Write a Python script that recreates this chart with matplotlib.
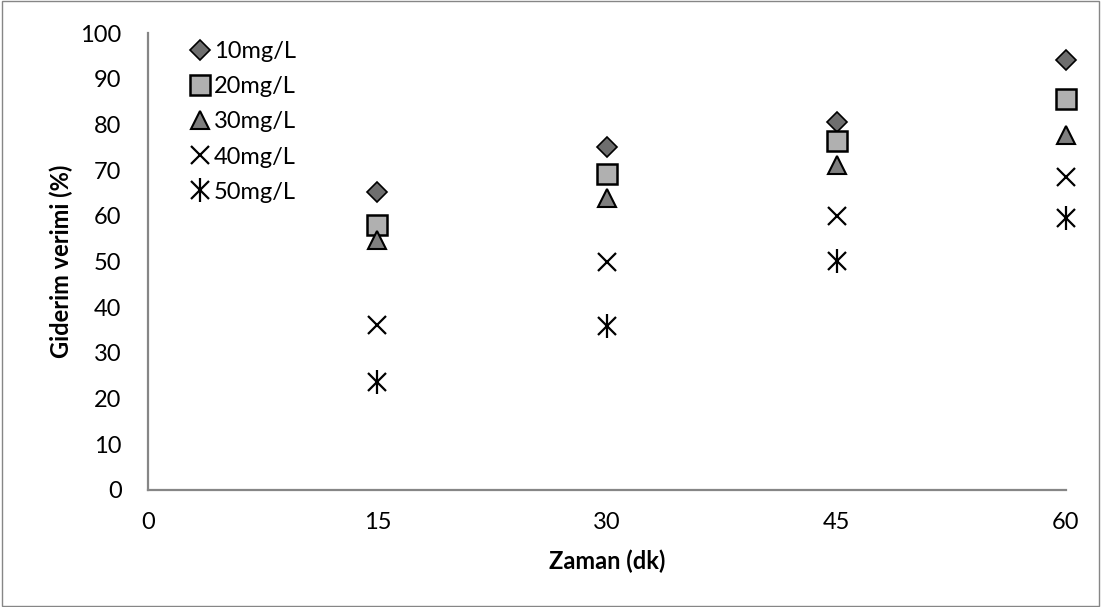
import matplotlib
matplotlib.use("Agg")
import matplotlib.pyplot as plt
from matplotlib.patches import Rectangle

plt.rcParams['font.family'] = ['Lato', 'DejaVu Sans']

zaman = [15, 30, 45, 60]
c10 = [65.2, 75.0, 80.5, 94.0]
c20 = [58.0, 69.2, 76.3, 85.5]
c30 = [54.8, 64.0, 71.2, 77.6]
c40 = [36.0, 49.8, 60.0, 68.5]
c50 = [23.6, 35.8, 50.2, 59.5]
labels = ['10mg/L', '20mg/L', '30mg/L', '40mg/L', '50mg/L']

fig = plt.figure(figsize=(11.01, 6.07), dpi=100)
ax = fig.add_axes([148/1101, 1 - 490/607, (1066-148)/1101, (490-33)/607])

h1, = ax.plot(zaman, c10, linestyle='none', marker='D', markersize=10,
              markerfacecolor='#6e6e6e', markeredgecolor='black', markeredgewidth=1.2, clip_on=False)
h2, = ax.plot(zaman, c20, linestyle='none', marker='s', markersize=14,
              markerfacecolor='#b0b0b0', markeredgecolor='black', markeredgewidth=1.8, clip_on=False)
h3, = ax.plot(zaman, c30, linestyle='none', marker='^', markersize=13,
              markerfacecolor='#7f7f7f', markeredgecolor='black', markeredgewidth=1.5, clip_on=False)
h4, = ax.plot(zaman, c40, linestyle='none', marker='x', markersize=13,
              markeredgecolor='black', markeredgewidth=1.6, clip_on=False)
h5a, = ax.plot(zaman, c50, linestyle='none', marker='x', markersize=13,
               markeredgecolor='black', markeredgewidth=1.6, clip_on=False)
h5b, = ax.plot(zaman, c50, linestyle='none', marker='|', markersize=17,
               markeredgecolor='black', markeredgewidth=1.6, clip_on=False)

ax.set_xlim(0, 60)
ax.set_ylim(0, 100)
ax.set_xticks([0, 15, 30, 45, 60])
ax.set_yticks(range(0, 101, 10))
for s in ['top', 'right']:
    ax.spines[s].set_visible(False)
for s in ['left', 'bottom']:
    ax.spines[s].set_color('#868686')
    ax.spines[s].set_linewidth(1.6)
ax.tick_params(axis='both', labelcolor='black', labelsize=17, length=0)
ax.tick_params(axis='x', pad=16)
ax.tick_params(axis='y', pad=19)
ax.set_xlabel('Zaman (dk)', fontsize=17, fontweight='bold', labelpad=12)
ax.set_ylabel('Giderim verimi (%)', fontsize=17, fontweight='bold', labelpad=5)

ax.legend([h1, h2, h3, h4, (h5a, h5b)], labels, loc='upper left',
          bbox_to_anchor=(0.037, 1.003), frameon=False, fontsize=17,
          handlelength=0.7, handletextpad=0.25, labelspacing=0.6, borderaxespad=0)

fig.patches.append(Rectangle((0.002, 0.002), 0.996, 0.996, transform=fig.transFigure,
                             fill=False, edgecolor='#868686', linewidth=1))

fig.savefig('out.png', dpi=100)
